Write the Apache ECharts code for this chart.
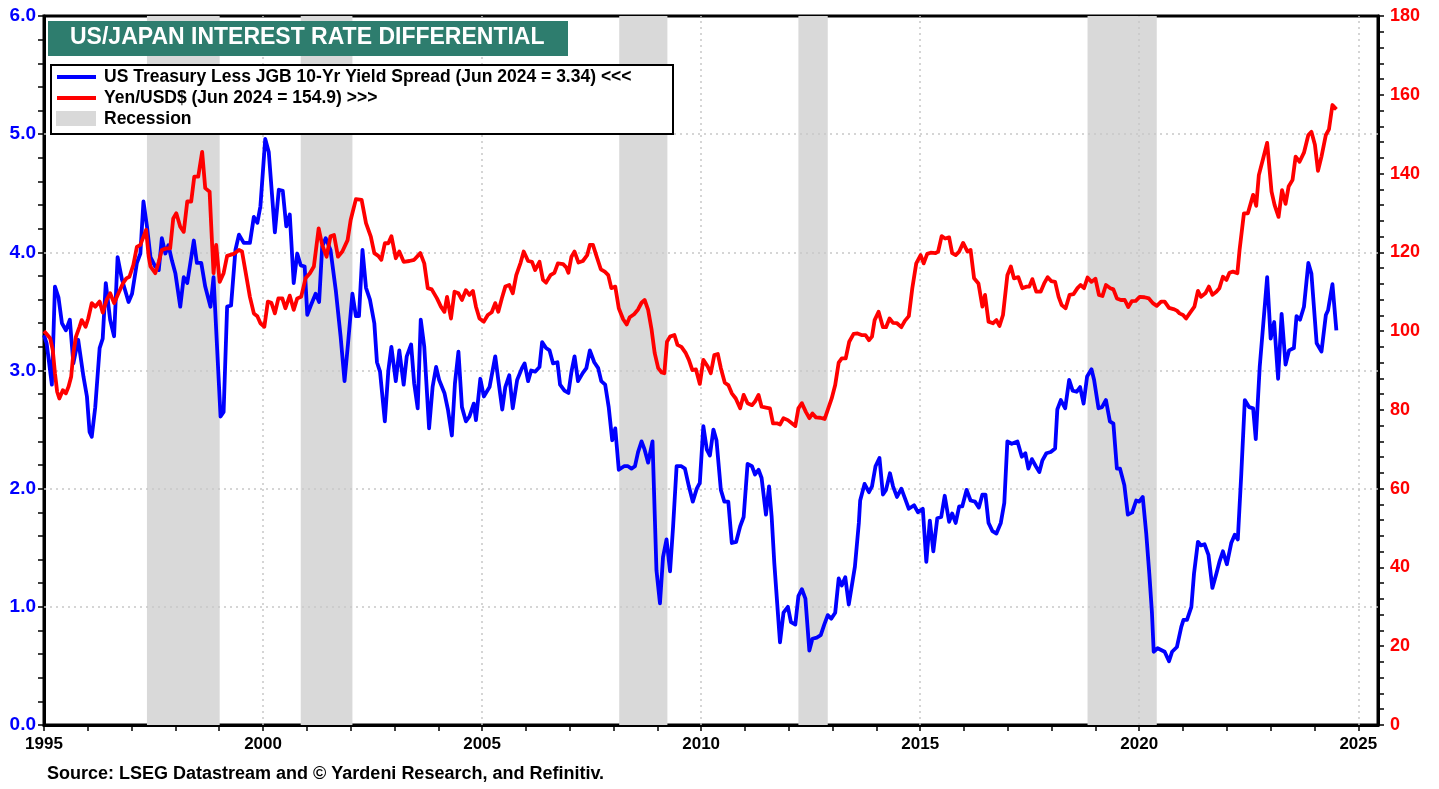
<!DOCTYPE html>
<html>
<head>
<meta charset="utf-8">
<script src="https://cdn.jsdelivr.net/npm/echarts@6.0.0/dist/echarts.min.js"></script>
<style>
  html, body { margin: 0; padding: 0; background: #fff; }
  #chart { width: 1439px; height: 789px; }
</style>
</head>
<body>
<div id="chart"></div>
<script>
// US Treasury less JGB 10-yr yield spread (left axis, %)
var spreadYears = [
  1995.00, 1995.06, 1995.18, 1995.25, 1995.33, 1995.41, 1995.50, 1995.59, 1995.67, 1995.78, 1995.90, 1995.98,
  1996.04, 1996.09, 1996.17, 1996.27, 1996.34, 1996.41, 1996.51, 1996.60, 1996.68, 1996.78, 1996.93,
  1997.01, 1997.12, 1997.20, 1997.27, 1997.35, 1997.43, 1997.54, 1997.62, 1997.69, 1997.77, 1997.84, 1997.92,
  1998.00, 1998.11, 1998.19, 1998.27, 1998.42, 1998.49, 1998.59, 1998.68, 1998.80, 1998.87,
  1999.03, 1999.10, 1999.18, 1999.27, 1999.37, 1999.45, 1999.56, 1999.70, 1999.79, 1999.87, 1999.94,
  2000.05, 2000.13, 2000.27, 2000.36, 2000.45, 2000.53, 2000.61, 2000.70, 2000.78, 2000.86, 2000.95,
  2001.01, 2001.09, 2001.20, 2001.28, 2001.35, 2001.43, 2001.54, 2001.66, 2001.77, 2001.86, 2001.94,
  2002.04, 2002.12, 2002.19, 2002.27, 2002.35, 2002.44, 2002.54, 2002.60, 2002.67, 2002.78, 2002.86, 2002.93,
  2003.03, 2003.11, 2003.21, 2003.28, 2003.38, 2003.45, 2003.53, 2003.60, 2003.68, 2003.79, 2003.87, 2003.95,
  2004.02, 2004.14, 2004.22, 2004.31, 2004.38, 2004.46, 2004.54, 2004.63, 2004.71, 2004.81, 2004.86, 2004.96,
  2005.04, 2005.17, 2005.30, 2005.37, 2005.46, 2005.53, 2005.62, 2005.70, 2005.80, 2005.91, 2005.97,
  2006.05, 2006.12, 2006.21, 2006.31, 2006.37, 2006.46, 2006.54, 2006.62, 2006.72, 2006.78, 2006.88, 2006.97,
  2007.04, 2007.11, 2007.19, 2007.30, 2007.38, 2007.46, 2007.56, 2007.65, 2007.72, 2007.81, 2007.89, 2007.97,
  2008.04, 2008.12, 2008.24, 2008.33, 2008.41, 2008.49, 2008.56, 2008.64, 2008.71, 2008.79, 2008.89, 2008.94, 2008.98,
  2009.06, 2009.13, 2009.21, 2009.29, 2009.36, 2009.44, 2009.55, 2009.63, 2009.72, 2009.81, 2009.90, 2009.97,
  2010.05, 2010.13, 2010.20, 2010.28, 2010.35, 2010.45, 2010.53, 2010.62, 2010.70, 2010.80, 2010.89, 2010.97,
  2011.06, 2011.16, 2011.23, 2011.31, 2011.38, 2011.48, 2011.55, 2011.61, 2011.67, 2011.73, 2011.80, 2011.88, 2011.98,
  2012.05, 2012.15, 2012.22, 2012.30, 2012.38, 2012.47, 2012.54, 2012.64, 2012.73, 2012.81, 2012.89, 2012.97,
  2013.06, 2013.14, 2013.21, 2013.29, 2013.37, 2013.51, 2013.60, 2013.63, 2013.73, 2013.83, 2013.90, 2013.98,
  2014.07, 2014.15, 2014.22, 2014.31, 2014.38, 2014.47, 2014.57, 2014.64, 2014.74, 2014.86, 2014.95,
  2015.06, 2015.14, 2015.22, 2015.30, 2015.39, 2015.48, 2015.56, 2015.66, 2015.73, 2015.81, 2015.89, 2015.96,
  2016.06, 2016.15, 2016.25, 2016.34, 2016.42, 2016.49, 2016.56, 2016.65, 2016.74, 2016.84, 2016.92, 2016.99,
  2017.09, 2017.22, 2017.32, 2017.40, 2017.47, 2017.55, 2017.64, 2017.72, 2017.79, 2017.88, 2017.98,
  2018.08, 2018.13, 2018.21, 2018.31, 2018.40, 2018.48, 2018.57, 2018.65, 2018.73, 2018.81, 2018.91, 2018.97,
  2019.07, 2019.15, 2019.24, 2019.33, 2019.41, 2019.49, 2019.56, 2019.66, 2019.74, 2019.84, 2019.93,
  2020.00, 2020.08, 2020.16, 2020.23, 2020.29, 2020.33, 2020.42, 2020.58, 2020.68, 2020.75, 2020.86, 2020.96,
  2021.01, 2021.09, 2021.19, 2021.25, 2021.34, 2021.41, 2021.49, 2021.58, 2021.67, 2021.76, 2021.83, 2021.91,
  2022.00, 2022.10, 2022.18, 2022.25, 2022.33, 2022.41, 2022.51, 2022.60, 2022.66, 2022.75, 2022.92,
  2023.00, 2023.08, 2023.17, 2023.25, 2023.34, 2023.42, 2023.53, 2023.59, 2023.67, 2023.76, 2023.86, 2023.93,
  2024.05, 2024.16, 2024.26, 2024.31, 2024.41, 2024.50
];
var spreadValues = [
  3.30, 3.23, 2.88, 3.71, 3.62, 3.40, 3.34, 3.43, 3.06, 3.26, 2.95, 2.78,
  2.48, 2.44, 2.69, 3.19, 3.27, 3.74, 3.43, 3.29, 3.96, 3.77, 3.58,
  3.65, 3.91, 3.99, 4.43, 4.22, 3.96, 3.88, 3.85, 4.12, 3.99, 4.06, 3.93,
  3.82, 3.54, 3.79, 3.74, 4.10, 3.91, 3.91, 3.71, 3.54, 3.79,
  2.61, 2.65, 3.54, 3.55, 4.02, 4.15, 4.08, 4.08, 4.30, 4.25, 4.39,
  4.96, 4.85, 4.17, 4.53, 4.52, 4.22, 4.32, 3.74, 3.99, 3.89, 3.88,
  3.47, 3.55, 3.65, 3.58, 4.05, 4.12, 4.02, 3.68, 3.29, 2.91, 3.23,
  3.65, 3.46, 3.46, 4.02, 3.70, 3.60, 3.40, 3.07, 2.99, 2.57, 3.00, 3.20,
  2.91, 3.17, 2.88, 3.12, 3.22, 2.89, 2.68, 3.43, 3.20, 2.51, 2.86, 3.03,
  2.92, 2.81, 2.67, 2.45, 2.89, 3.16, 2.69, 2.57, 2.61, 2.72, 2.58, 2.93,
  2.78, 2.86, 3.12, 2.92, 2.67, 2.86, 2.96, 2.68, 2.92, 3.02, 3.06,
  2.91, 3.00, 2.99, 3.03, 3.24, 3.19, 3.17, 3.06, 3.07, 2.88, 2.83, 2.81,
  2.99, 3.12, 2.91, 2.98, 3.02, 3.17, 3.07, 3.02, 2.91, 2.88, 2.69, 2.41,
  2.51, 2.16, 2.19, 2.19, 2.17, 2.19, 2.31, 2.40, 2.33, 2.22, 2.40, 1.79, 1.31,
  1.03, 1.42, 1.57, 1.30, 1.68, 2.19, 2.19, 2.17, 2.02, 1.89, 2.00, 2.05,
  2.53, 2.33, 2.28, 2.50, 2.41, 1.99, 1.89, 1.89, 1.54, 1.55, 1.68, 1.76,
  2.21, 2.19, 2.12, 2.16, 2.09, 1.78, 2.02, 1.76, 1.37, 1.06, 0.70, 0.95, 1.00,
  0.87, 0.85, 1.09, 1.15, 1.07, 0.63, 0.73, 0.74, 0.76, 0.85, 0.93, 0.90,
  0.95, 1.24, 1.18, 1.25, 1.02, 1.34, 1.71, 1.90, 2.04, 1.97, 2.02, 2.19,
  2.26, 1.95, 1.99, 2.13, 2.02, 1.93, 2.00, 1.93, 1.83, 1.86, 1.80,
  1.83, 1.38, 1.73, 1.47, 1.75, 1.76, 1.94, 1.72, 1.79, 1.71, 1.85, 1.85,
  1.99, 1.90, 1.89, 1.84, 1.95, 1.95, 1.71, 1.64, 1.62, 1.71, 1.88, 2.40,
  2.38, 2.40, 2.27, 2.30, 2.17, 2.25, 2.19, 2.14, 2.24, 2.30, 2.31,
  2.34, 2.67, 2.75, 2.68, 2.92, 2.83, 2.82, 2.86, 2.72, 2.95, 3.01, 2.92,
  2.68, 2.69, 2.75, 2.57, 2.55, 2.17, 2.17, 2.03, 1.78, 1.80, 1.90,
  1.89, 1.93, 1.62, 1.28, 0.95, 0.62, 0.65, 0.62, 0.54, 0.62, 0.66, 0.83,
  0.89, 0.89, 1.00, 1.28, 1.55, 1.52, 1.53, 1.44, 1.16, 1.28, 1.38, 1.47,
  1.36, 1.54, 1.61, 1.57, 2.13, 2.75, 2.69, 2.68, 2.42, 3.03, 3.79,
  3.27, 3.41, 2.93, 3.48, 3.05, 3.17, 3.19, 3.46, 3.43, 3.54, 3.91, 3.82,
  3.23, 3.16, 3.47, 3.51, 3.73, 3.34
];

// Yen per US dollar (right axis)
var yenYears = [
  1995.00, 1995.05, 1995.14, 1995.20, 1995.25, 1995.30, 1995.35, 1995.43, 1995.50, 1995.56, 1995.62, 1995.67, 1995.73, 1995.81, 1995.86, 1995.95,
  1996.01, 1996.09, 1996.17, 1996.27, 1996.34, 1996.43, 1996.51, 1996.60, 1996.70, 1996.80, 1996.88, 1996.95,
  1997.04, 1997.12, 1997.20, 1997.33, 1997.39, 1997.43, 1997.54, 1997.62, 1997.69, 1997.79, 1997.88, 1997.95,
  1998.02, 1998.11, 1998.19, 1998.27, 1998.36, 1998.43, 1998.52, 1998.61, 1998.68, 1998.78, 1998.84, 1998.87, 1998.93,
  1999.01, 1999.10, 1999.18, 1999.33, 1999.45, 1999.52, 1999.60, 1999.70, 1999.79, 1999.87, 1999.94,
  2000.03, 2000.11, 2000.19, 2000.27, 2000.35, 2000.44, 2000.51, 2000.61, 2000.70, 2000.78, 2000.87, 2000.97,
  2001.07, 2001.16, 2001.27, 2001.35, 2001.45, 2001.54, 2001.62, 2001.71, 2001.81, 2001.93,
  2002.00, 2002.12, 2002.25, 2002.35, 2002.46, 2002.54, 2002.63, 2002.70, 2002.78, 2002.86, 2002.93,
  2003.03, 2003.11, 2003.21, 2003.34, 2003.45, 2003.59, 2003.68, 2003.76, 2003.85, 2003.97,
  2004.06, 2004.14, 2004.20, 2004.29, 2004.37, 2004.46, 2004.54, 2004.63, 2004.71, 2004.79, 2004.86, 2004.94,
  2005.04, 2005.13, 2005.22, 2005.30, 2005.37, 2005.45, 2005.53, 2005.62, 2005.70, 2005.78, 2005.88, 2005.95,
  2006.05, 2006.14, 2006.21, 2006.31, 2006.39, 2006.46, 2006.56, 2006.65, 2006.73, 2006.85, 2006.92, 2006.97,
  2007.04, 2007.11, 2007.20, 2007.30, 2007.40, 2007.46, 2007.53, 2007.61, 2007.71, 2007.80, 2007.88, 2007.95,
  2008.04, 2008.12, 2008.22, 2008.30, 2008.37, 2008.47, 2008.56, 2008.64, 2008.71, 2008.79, 2008.87, 2008.94,
  2009.02, 2009.10, 2009.16, 2009.22, 2009.29, 2009.39, 2009.46, 2009.55, 2009.65, 2009.72, 2009.80, 2009.88, 2009.97,
  2010.05, 2010.15, 2010.22, 2010.30, 2010.38, 2010.45, 2010.54, 2010.62, 2010.70, 2010.79, 2010.89, 2010.97,
  2011.06, 2011.16, 2011.23, 2011.31, 2011.38, 2011.48, 2011.57, 2011.64, 2011.73, 2011.80, 2011.88, 2011.98,
  2012.07, 2012.15, 2012.22, 2012.30, 2012.39, 2012.47, 2012.54, 2012.62, 2012.72, 2012.82, 2012.89, 2012.98,
  2013.06, 2013.14, 2013.21, 2013.30, 2013.38, 2013.48, 2013.57, 2013.66, 2013.75, 2013.83, 2013.90, 2013.96,
  2014.05, 2014.15, 2014.22, 2014.30, 2014.38, 2014.47, 2014.57, 2014.65, 2014.74, 2014.82, 2014.91,
  2015.01, 2015.08, 2015.16, 2015.24, 2015.35, 2015.41, 2015.49, 2015.57, 2015.66, 2015.73, 2015.81, 2015.89, 2015.98,
  2016.08, 2016.15, 2016.23, 2016.33, 2016.42, 2016.48, 2016.56, 2016.66, 2016.74, 2016.81, 2016.89, 2016.99,
  2017.07, 2017.14, 2017.24, 2017.33, 2017.43, 2017.49, 2017.56, 2017.65, 2017.75, 2017.83, 2017.91, 2017.99,
  2018.08, 2018.16, 2018.23, 2018.32, 2018.41, 2018.50, 2018.59, 2018.66, 2018.74, 2018.82, 2018.91,
  2019.00, 2019.08, 2019.16, 2019.24, 2019.34, 2019.41, 2019.49, 2019.58, 2019.67, 2019.75, 2019.83, 2019.92,
  2020.01, 2020.12, 2020.22, 2020.31, 2020.40, 2020.50, 2020.58, 2020.68, 2020.78, 2020.86, 2020.92,
  2021.00, 2021.07, 2021.15, 2021.26, 2021.34, 2021.41, 2021.51, 2021.59, 2021.67, 2021.76, 2021.83, 2021.91, 2021.99,
  2022.06, 2022.14, 2022.24, 2022.29, 2022.39, 2022.48, 2022.52, 2022.60, 2022.67, 2022.73, 2022.83, 2022.92,
  2023.02, 2023.09, 2023.18, 2023.26, 2023.34, 2023.41, 2023.50, 2023.57, 2023.66, 2023.76, 2023.86, 2023.93,
  2024.01, 2024.08, 2024.16, 2024.26, 2024.33, 2024.41, 2024.50
];
var yenValues = [
  100.0, 99.4, 98.2, 95.2, 89.3, 84.6, 82.9, 85.0, 84.2, 85.9, 88.4, 94.4, 98.6, 101.1, 102.8, 101.1,
  103.2, 107.1, 106.2, 107.5, 104.7, 107.9, 109.6, 107.1, 109.6, 112.1, 113.4, 113.8,
  116.8, 121.4, 121.9, 125.7, 118.9, 116.4, 114.7, 117.6, 120.6, 121.0, 121.0, 128.6,
  129.9, 126.5, 125.2, 132.9, 132.9, 139.2, 139.2, 145.5, 136.3, 135.4, 121.4, 114.7, 121.9,
  112.5, 114.7, 119.1, 119.6, 120.6, 120.2, 115.1, 108.7, 104.5, 103.8, 102.0,
  101.1, 107.5, 107.2, 104.5, 108.3, 108.3, 105.8, 109.0, 105.4, 108.3, 108.7, 113.4,
  114.7, 116.4, 126.1, 121.9, 118.9, 124.1, 124.4, 118.9, 120.2, 123.1,
  128.2, 133.5, 133.3, 127.4, 124.0, 119.8, 119.1, 118.1, 122.3, 122.3, 124.1,
  118.5, 120.2, 117.6, 117.8, 118.1, 119.8, 117.2, 110.9, 110.6, 108.3,
  106.2, 104.9, 108.7, 103.2, 110.0, 109.6, 107.9, 110.4, 109.2, 110.2, 106.2, 103.2,
  102.4, 104.1, 104.8, 107.1, 104.9, 108.3, 111.3, 111.7, 109.6, 114.2, 117.4, 120.2,
  117.8, 117.6, 115.5, 117.6, 113.0, 112.3, 114.2, 114.8, 117.2, 117.0, 116.2, 114.8,
  118.9, 120.2, 117.4, 117.8, 119.3, 121.9, 121.9, 119.1, 115.7, 115.1, 114.2, 110.9,
  111.3, 105.8, 103.0, 101.7, 103.5, 104.3, 105.5, 107.2, 107.9, 105.4, 100.3, 94.4,
  90.6, 89.5, 89.3, 97.3, 98.6, 99.0, 96.5, 96.0, 94.4, 92.7, 90.1, 90.3, 86.6,
  92.7, 91.0, 89.3, 93.9, 94.2, 90.6, 86.9, 86.3, 84.2, 82.9, 80.4, 83.8,
  81.7, 81.2, 82.1, 83.8, 80.8, 80.6, 80.4, 76.6, 76.6, 76.3, 77.9, 77.4,
  76.6, 75.9, 80.4, 81.7, 79.5, 77.9, 79.1, 78.1, 78.0, 77.7, 80.0, 82.9,
  86.3, 92.0, 93.1, 93.1, 97.3, 99.3, 99.4, 99.0, 99.0, 97.7, 98.6, 102.8,
  104.9, 101.0, 101.0, 103.2, 102.1, 102.0, 101.0, 102.6, 103.8, 110.9, 117.2,
  119.3, 117.2, 119.6, 119.9, 119.8, 120.2, 124.1, 123.5, 123.8, 119.8, 119.3, 120.2, 122.4,
  120.2, 120.6, 113.4, 112.1, 106.2, 109.2, 102.4, 102.0, 102.8, 101.3, 104.1, 114.2,
  116.4, 113.4, 113.7, 110.9, 111.3, 111.3, 113.2, 110.0, 110.0, 112.1, 113.7, 112.7,
  112.5, 108.7, 106.6, 105.8, 109.2, 109.4, 110.9, 111.7, 110.9, 113.6, 112.5,
  113.3, 109.2, 108.9, 111.7, 110.9, 110.6, 108.3, 107.9, 107.9, 106.1, 107.6, 107.7,
  108.7, 108.6, 108.3, 107.1, 106.4, 107.5, 107.5, 105.9, 105.6, 105.2, 104.5,
  104.1, 103.2, 104.5, 106.2, 110.2, 108.7, 109.6, 111.3, 109.2, 110.0, 110.9, 113.8, 113.0,
  114.8, 115.1, 114.7, 120.6, 129.9, 129.9, 129.5, 134.6, 131.8, 139.6, 143.9, 147.8,
  135.4, 132.0, 129.0, 135.8, 132.3, 136.7, 138.4, 144.3, 143.0, 145.3, 149.8, 150.6,
  147.3, 140.7, 144.3, 149.8, 151.2, 157.4, 156.3
];

// Recessions (shaded)
var recessionStart = [1997.35, 2000.86, 2008.13, 2012.22, 2018.82];
var recessionEnd   = [1999.01, 2002.04, 2009.23, 2012.89, 2020.40];

var xLabelYears = [1995, 2000, 2005, 2010, 2015, 2020, 2025];
var xTickYears = [];
for (var y = 1995; y <= 2025; y++) xTickYears.push(y);
var hGridValues = [1, 2, 3, 4, 5];

var titleText = 'US/JAPAN INTEREST RATE DIFFERENTIAL';
var legendNames = [
  'US Treasury Less JGB 10-Yr Yield Spread (Jun 2024 = 3.34) <<<',
  'Yen/USD$ (Jun 2024 = 154.9) >>>',
  'Recession'
];
var sourceText = 'Source: LSEG Datastream and \u00a9 Yardeni Research, and Refinitiv.';

var FONT = 'Arial, "Liberation Sans", sans-serif';
var BLUE = '#0000ff';
var RED = '#ff0000';
var GRID = '#c8c8c8';

function pairs(xs, vs) {
  return xs.map(function (x, i) { return [x, vs[i]]; });
}

var chart = echarts.init(document.getElementById('chart'), null, { renderer: 'canvas' });

var tickStyle = { color: '#000', width: 1.5 };

chart.setOption({
  animation: false,
  backgroundColor: '#fff',
  textStyle: { fontFamily: FONT },
  grid: {
    left: 44, right: 61, top: 16, bottom: 64,
    show: true, borderColor: '#000', borderWidth: 3, backgroundColor: 'transparent'
  },
  xAxis: {
    type: 'value', min: 1995, max: 2025.45,
    axisLine: { show: true, onZero: false, lineStyle: { color: '#000', width: 3 } },
    axisTick: { show: true, customValues: xTickYears, length: 6, lineStyle: tickStyle },
    axisLabel: {
      customValues: xLabelYears, color: '#000', fontWeight: 'bold', fontSize: 17,
      fontFamily: FONT, margin: 11, formatter: function (v) { return String(Math.round(v)); }
    },
    splitLine: { show: false }
  },
  yAxis: [{
    type: 'value', min: 0, max: 6, interval: 1, position: 'left',
    axisLine: { show: true, lineStyle: { color: '#000', width: 3 } },
    axisTick: { show: true, length: 6, lineStyle: tickStyle },
    minorTick: { show: true, splitNumber: 5, length: 6, lineStyle: tickStyle },
    axisLabel: {
      color: BLUE, fontWeight: 'bold', fontSize: 19, fontFamily: FONT, margin: 8,
      formatter: function (v) { return v.toFixed(1); }
    },
    splitLine: { show: false }
  }, {
    type: 'value', min: 0, max: 180, interval: 20, position: 'right',
    axisLine: { show: true, lineStyle: { color: '#000', width: 3 } },
    axisTick: { show: true, length: 6, lineStyle: tickStyle },
    minorTick: { show: true, splitNumber: 5, length: 6, lineStyle: tickStyle },
    axisLabel: { color: RED, fontWeight: 'bold', fontSize: 18, fontFamily: FONT, margin: 12 },
    splitLine: { show: false }
  }],
  series: [{
    name: 'Recession', type: 'line', data: [], z: 1, silent: true,
    markArea: {
      silent: true, z: 1,
      itemStyle: { color: '#d9d9d9', opacity: 1 },
      data: recessionStart.map(function (s, i) { return [{ xAxis: s }, { xAxis: recessionEnd[i] }]; })
    }
  }, {
    name: 'grid', type: 'line', data: [], z: 2, silent: true,
    markLine: {
      silent: true, z: 2, symbol: ['none', 'none'], label: { show: false },
      lineStyle: { color: GRID, type: [2, 4], width: 1.5 },
      data: xLabelYears.slice(1).map(function (x) { return { xAxis: x }; })
        .concat(hGridValues.map(function (v) { return { yAxis: v }; }))
    }
  }, {
    name: legendNames[0], type: 'line', yAxisIndex: 0, z: 6,
    data: pairs(spreadYears, spreadValues),
    showSymbol: false, symbol: 'none',
    lineStyle: { color: BLUE, width: 3.8, join: 'round' }
  }, {
    name: legendNames[1], type: 'line', yAxisIndex: 1, z: 7,
    data: pairs(yenYears, yenValues),
    showSymbol: false, symbol: 'none',
    lineStyle: { color: RED, width: 3.8, join: 'round' }
  }],
  graphic: [{
    type: 'rect', left: 48, top: 21, z: 100,
    shape: { width: 520, height: 35 },
    style: { fill: '#2e7d6e' }
  }, {
    type: 'text', left: 70, top: 26, z: 101,
    style: { text: titleText, fill: '#fff', font: 'bold 23px ' + FONT }
  }, {
    type: 'rect', left: 50, top: 64, z: 100,
    shape: { width: 622, height: 69 },
    style: { fill: '#fff', stroke: '#000', lineWidth: 2 }
  }, {
    type: 'line', z: 101, shape: { x1: 57, y1: 77, x2: 96, y2: 77 },
    style: { stroke: BLUE, lineWidth: 4 }
  }, {
    type: 'line', z: 101, shape: { x1: 57, y1: 98, x2: 96, y2: 98 },
    style: { stroke: RED, lineWidth: 4 }
  }, {
    type: 'rect', left: 56, top: 111, z: 101,
    shape: { width: 40, height: 15 },
    style: { fill: '#d9d9d9' }
  }, {
    type: 'text', left: 104, top: 68, z: 101,
    style: { text: legendNames[0], fill: '#000', font: 'bold 17.5px ' + FONT }
  }, {
    type: 'text', left: 104, top: 89, z: 101,
    style: { text: legendNames[1], fill: '#000', font: 'bold 17.5px ' + FONT }
  }, {
    type: 'text', left: 104, top: 110, z: 101,
    style: { text: legendNames[2], fill: '#000', font: 'bold 17.5px ' + FONT }
  }, {
    type: 'text', left: 47, top: 765, z: 101,
    style: { text: sourceText, fill: '#000', font: 'bold 18px ' + FONT }
  }]
});
</script>
</body>
</html>
